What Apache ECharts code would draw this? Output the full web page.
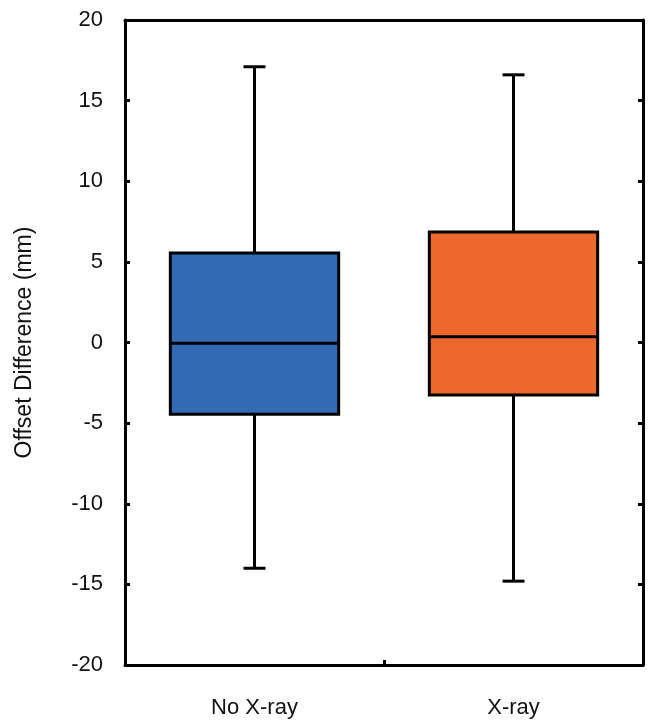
<!DOCTYPE html>
<html>
<head>
<meta charset="utf-8">
<script src="https://cdn.jsdelivr.net/npm/echarts@6/dist/echarts.min.js"></script>
<style>
html,body{margin:0;padding:0;background:#fff;}
#c{width:653px;height:728px;}
</style>
</head>
<body>
<div id="c"></div>
<script>
const categories = ['No X-ray', 'X-ray'];
const whiskerLow = [-14.0, -14.8];
const q1Values = [-4.45, -3.25];
const medianValues = [-0.05, 0.35];
const q3Values = [5.55, 6.85];
const whiskerHigh = [17.1, 16.6];
const boxColors = ['#326bb4', '#ee672c'];
const yTicks = { min: -20, max: 20, interval: 5 };

const FONT = '"Liberation Sans", Arial, Helvetica, sans-serif';
const data = categories.map((c, i) => [i, whiskerLow[i], q1Values[i], medianValues[i], q3Values[i], whiskerHigh[i]]);

const chart = echarts.init(document.getElementById('c'), null, { renderer: 'canvas' });
const axisLineStyle = { color: '#000', width: 3 };

chart.setOption({
  animation: false,
  backgroundColor: '#fff',
  grid: { left: 125, right: 10, top: 20, bottom: 63 },
  xAxis: [{
    type: 'category',
    data: categories,
    boundaryGap: true,
    axisLine: { show: true, onZero: false, lineStyle: axisLineStyle },
    axisTick: { show: true, inside: true, length: 5, lineStyle: { color: '#000', width: 3 } },
    axisLabel: { color: '#111', fontFamily: FONT, fontSize: 22, margin: 32 },
    splitLine: { show: false }
  }, {
    type: 'category',
    data: categories,
    position: 'top',
    axisLine: { show: true, onZero: false, lineStyle: axisLineStyle },
    axisTick: { show: false },
    axisLabel: { show: false },
    splitLine: { show: false }
  }],
  yAxis: [{
    type: 'value',
    min: yTicks.min, max: yTicks.max, interval: yTicks.interval,
    name: 'Offset Difference (mm)',
    nameLocation: 'middle',
    nameGap: 89,
    nameTextStyle: { color: '#111', fontFamily: FONT, fontSize: 23 },
    axisLine: { show: true, onZero: false, lineStyle: axisLineStyle },
    axisTick: { show: true, inside: true, length: 5, lineStyle: { color: '#000', width: 3 } },
    axisLabel: { color: '#111', fontFamily: FONT, fontSize: 22, margin: 22 },
    splitLine: { show: false }
  }, {
    type: 'value',
    position: 'right',
    min: yTicks.min, max: yTicks.max, interval: yTicks.interval,
    axisLine: { show: true, onZero: false, lineStyle: axisLineStyle },
    axisTick: { show: true, inside: true, length: 5, lineStyle: { color: '#000', width: 3 } },
    axisLabel: { show: false },
    splitLine: { show: false }
  }],
  series: [{
    type: 'custom',
    xAxisIndex: 0,
    yAxisIndex: 0,
    data: data,
    renderItem: function (params, api) {
      const idx = api.value(0);
      const band = api.size([1, 0])[0];
      const boxW = band * 0.65;
      const capW = band * 0.085;
      const pMin = api.coord([idx, api.value(1)]);
      const pQ1 = api.coord([idx, api.value(2)]);
      const pMed = api.coord([idx, api.value(3)]);
      const pQ3 = api.coord([idx, api.value(4)]);
      const pMax = api.coord([idx, api.value(5)]);
      const x = pMed[0];
      const ls = { stroke: '#000', lineWidth: 3 };
      return {
        type: 'group',
        children: [
          { type: 'line', shape: { x1: x, y1: pQ3[1], x2: x, y2: pMax[1] }, style: ls },
          { type: 'line', shape: { x1: x, y1: pQ1[1], x2: x, y2: pMin[1] }, style: ls },
          { type: 'line', shape: { x1: x - capW / 2, y1: pMax[1], x2: x + capW / 2, y2: pMax[1] }, style: ls },
          { type: 'line', shape: { x1: x - capW / 2, y1: pMin[1], x2: x + capW / 2, y2: pMin[1] }, style: ls },
          { type: 'rect', shape: { x: x - boxW / 2, y: pQ3[1], width: boxW, height: pQ1[1] - pQ3[1] },
            style: { fill: boxColors[idx], stroke: '#000', lineWidth: 3 } },
          { type: 'line', shape: { x1: x - boxW / 2, y1: pMed[1], x2: x + boxW / 2, y2: pMed[1] }, style: ls }
        ]
      };
    }
  }]
});
</script>
</body>
</html>
